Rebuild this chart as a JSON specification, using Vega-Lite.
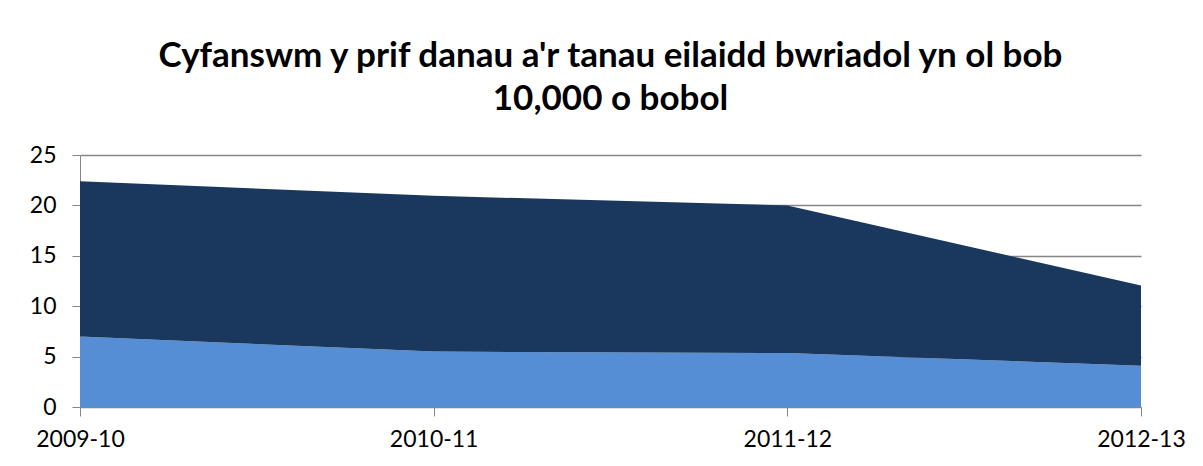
{
  "$schema": "https://vega.github.io/schema/vega-lite/v6.json",
  "autosize": "none",
  "width": 1061,
  "height": 252,
  "padding": {"left": 80, "top": 155, "right": 62, "bottom": 59},
  "background": "white",
  "title": {
    "text": ["Cyfanswm y prif danau a'r tanau eilaidd bwriadol yn ol bob", "10,000 o bobol"],
    "font": "Lato",
    "fontSize": 35,
    "fontWeight": "bold",
    "color": "#000000",
    "lineHeight": 43,
    "offset": 27,
    "anchor": "middle"
  },
  "data": {
    "values": [
      {"year": "2009-10", "series": "Prif danau", "order": 1, "value": 7.0},
      {"year": "2010-11", "series": "Prif danau", "order": 1, "value": 5.5},
      {"year": "2011-12", "series": "Prif danau", "order": 1, "value": 5.35},
      {"year": "2012-13", "series": "Prif danau", "order": 1, "value": 4.1},
      {"year": "2009-10", "series": "Tanau eilaidd bwriadol", "order": 2, "value": 15.4},
      {"year": "2010-11", "series": "Tanau eilaidd bwriadol", "order": 2, "value": 15.45},
      {"year": "2011-12", "series": "Tanau eilaidd bwriadol", "order": 2, "value": 14.65},
      {"year": "2012-13", "series": "Tanau eilaidd bwriadol", "order": 2, "value": 7.95}
    ]
  },
  "mark": {"type": "area", "interpolate": "linear", "opacity": 1},
  "encoding": {
    "x": {
      "field": "year",
      "type": "ordinal",
      "scale": {"type": "point", "padding": 0},
      "axis": {
        "title": null,
        "labelAngle": 0,
        "labelFont": "Lato",
        "labelFontSize": 23,
        "labelColor": "#000000",
        "labelPadding": 12,
        "domainColor": "#868686",
        "tickColor": "#868686",
        "tickSize": 9,
        "grid": false
      }
    },
    "y": {
      "field": "value",
      "type": "quantitative",
      "stack": "zero",
      "scale": {"domain": [0, 25], "nice": false},
      "axis": {
        "title": null,
        "values": [0, 5, 10, 15, 20, 25],
        "labelFont": "Lato",
        "labelFontSize": 23,
        "labelColor": "#000000",
        "labelPadding": 16,
        "domainColor": "#868686",
        "tickColor": "#868686",
        "tickSize": 8,
        "grid": true,
        "gridColor": "#868686",
        "gridWidth": 1.3
      }
    },
    "color": {
      "field": "series",
      "type": "nominal",
      "scale": {"domain": ["Prif danau", "Tanau eilaidd bwriadol"], "range": ["#558ED5", "#1A375D"]},
      "legend": null
    },
    "order": {"field": "order", "type": "quantitative"}
  },
  "config": {"view": {"stroke": null}}
}
